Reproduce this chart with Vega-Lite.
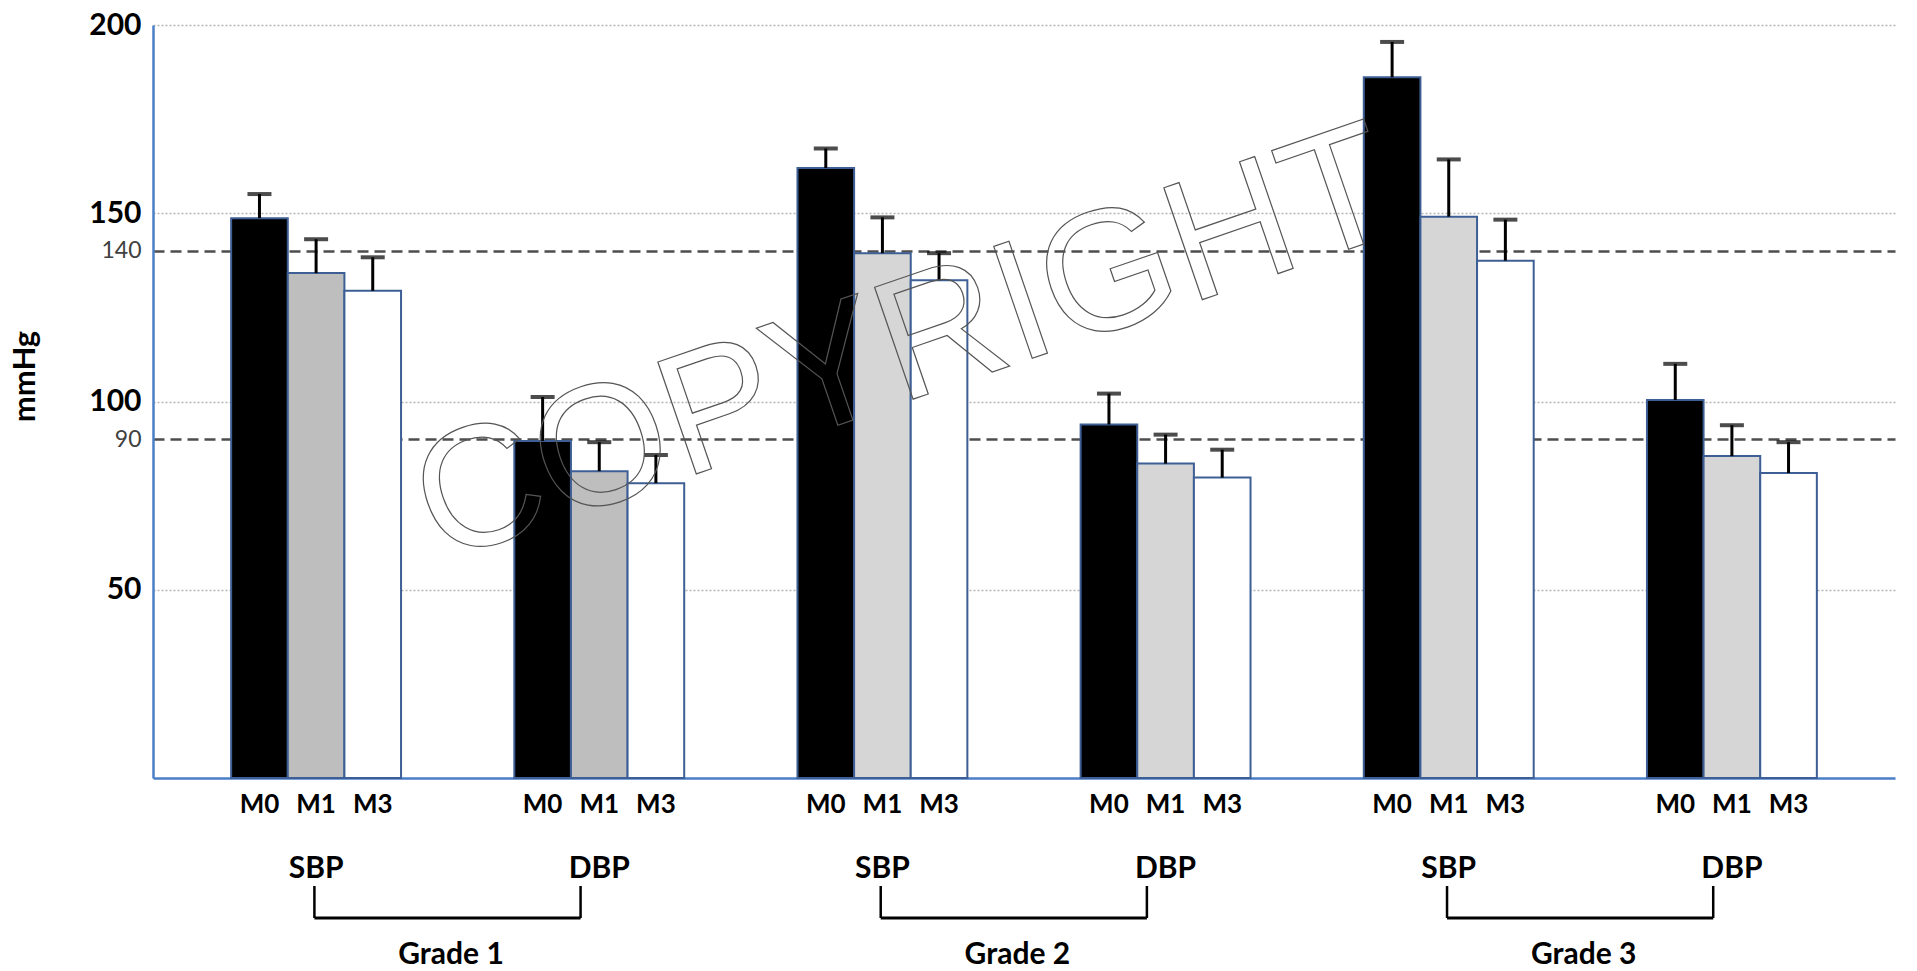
{
  "$schema": "https://vega.github.io/schema/vega-lite/v6.json",
  "width": 1742,
  "height": 753,
  "autosize": {"type": "none"},
  "padding": {"left": 153, "top": 25, "right": 22, "bottom": 193},
  "background": "white",
  "config": {"view": {"stroke": null}, "font": "Lato"},
  "datasets": {
    "bp": [
      {"group": "Grade 1 SBP", "grade": "Grade 1", "bp": "SBP", "time": "M0", "mean": 148.7, "upper": 155.1},
      {"group": "Grade 1 SBP", "grade": "Grade 1", "bp": "SBP", "time": "M1", "mean": 134.1, "upper": 143.1},
      {"group": "Grade 1 SBP", "grade": "Grade 1", "bp": "SBP", "time": "M3", "mean": 129.4, "upper": 138.3},
      {"group": "Grade 1 DBP", "grade": "Grade 1", "bp": "DBP", "time": "M0", "mean": 89.5, "upper": 101.2},
      {"group": "Grade 1 DBP", "grade": "Grade 1", "bp": "DBP", "time": "M1", "mean": 81.5, "upper": 89.2},
      {"group": "Grade 1 DBP", "grade": "Grade 1", "bp": "DBP", "time": "M3", "mean": 78.3, "upper": 85.8},
      {"group": "Grade 2 SBP", "grade": "Grade 2", "bp": "SBP", "time": "M0", "mean": 162.0, "upper": 167.2},
      {"group": "Grade 2 SBP", "grade": "Grade 2", "bp": "SBP", "time": "M1", "mean": 139.4, "upper": 148.9},
      {"group": "Grade 2 SBP", "grade": "Grade 2", "bp": "SBP", "time": "M3", "mean": 132.2, "upper": 139.4},
      {"group": "Grade 2 DBP", "grade": "Grade 2", "bp": "DBP", "time": "M0", "mean": 93.9, "upper": 102.1},
      {"group": "Grade 2 DBP", "grade": "Grade 2", "bp": "DBP", "time": "M1", "mean": 83.5, "upper": 91.2},
      {"group": "Grade 2 DBP", "grade": "Grade 2", "bp": "DBP", "time": "M3", "mean": 79.8, "upper": 87.2},
      {"group": "Grade 3 SBP", "grade": "Grade 3", "bp": "SBP", "time": "M0", "mean": 186.1, "upper": 195.5},
      {"group": "Grade 3 SBP", "grade": "Grade 3", "bp": "SBP", "time": "M1", "mean": 149.1, "upper": 164.3},
      {"group": "Grade 3 SBP", "grade": "Grade 3", "bp": "SBP", "time": "M3", "mean": 137.4, "upper": 148.3},
      {"group": "Grade 3 DBP", "grade": "Grade 3", "bp": "DBP", "time": "M0", "mean": 100.4, "upper": 110.0},
      {"group": "Grade 3 DBP", "grade": "Grade 3", "bp": "DBP", "time": "M1", "mean": 85.5, "upper": 93.7},
      {"group": "Grade 3 DBP", "grade": "Grade 3", "bp": "DBP", "time": "M3", "mean": 81.0, "upper": 89.2}
    ],
    "grades": [
      {"grade": "Grade 1", "sbp": "Grade 1 SBP", "dbp": "Grade 1 DBP"},
      {"grade": "Grade 2", "sbp": "Grade 2 SBP", "dbp": "Grade 2 DBP"},
      {"grade": "Grade 3", "sbp": "Grade 3 SBP", "dbp": "Grade 3 DBP"}
    ],
    "watermark": [{"text": "COPYRIGHT"}]
  },
  "layer": [
    {
      "data": {"name": "bp"},
      "mark": {"type": "bar", "stroke": "#3D5F95", "strokeWidth": 2},
      "encoding": {
        "x": {
          "field": "group", "type": "nominal",
          "scale": {"domain": ["Grade 1 SBP", "Grade 1 DBP", "Grade 2 SBP", "Grade 2 DBP", "Grade 3 SBP", "Grade 3 DBP"], "paddingInner": 0.4, "paddingOuter": 0.276},
          "axis": {
            "title": null, "ticks": false, "labelAngle": 0, "labelPadding": 75,
            "labelFontSize": 30, "labelFontWeight": "bold", "labelColor": "#000000",
            "labelExpr": "split(datum.value, ' ')[2]",
            "domainColor": "#4A7EC7", "domainWidth": 2.5, "grid": false
          }
        },
        "xOffset": {"field": "time", "type": "nominal", "scale": {"domain": ["M0", "M1", "M3"], "paddingInner": 0, "paddingOuter": 0}},
        "y": {
          "field": "mean", "type": "quantitative",
          "scale": {"domain": [0, 200], "nice": false},
          "axis": {
            "values": [50, 90, 100, 140, 150, 200],
            "title": "mmHg", "titleFontSize": 31, "titleFontWeight": "bold", "titleColor": "#000000",
            "titleX": -128, "titleY": 351, "titleAngle": -90, "titleAlign": "center", "titleBaseline": "middle",
            "ticks": false, "labelPadding": 12,
            "domainColor": "#4A7EC7", "domainWidth": 2.5,
            "grid": true,
            "gridColor": {"condition": {"test": "datum.value == 90 || datum.value == 140", "value": "#4D4D4D"}, "value": "#B5B5B5"},
            "gridDash": {"condition": {"test": "datum.value == 90 || datum.value == 140", "value": [11, 6]}, "value": [2, 2]},
            "gridWidth": {"condition": {"test": "datum.value == 90 || datum.value == 140", "value": 2.4}, "value": 1.6},
            "labelFontSize": {"condition": {"test": "datum.value == 90 || datum.value == 140", "value": 23}, "value": 30},
            "labelFontWeight": {"condition": {"test": "datum.value == 90 || datum.value == 140", "value": "normal"}, "value": "bold"},
            "labelColor": {"condition": {"test": "datum.value == 90 || datum.value == 140", "value": "#404040"}, "value": "#000000"}
          }
        },
        "fill": {
          "condition": {"test": "datum.grade === 'Grade 1' && datum.time === 'M1'", "value": "#BEBEBE"},
          "field": "time", "type": "nominal",
          "scale": {"domain": ["M0", "M1", "M3"], "range": ["#000000", "#D6D6D6", "#FFFFFF"]},
          "legend": null
        }
      }
    },
    {
      "data": {"name": "bp"},
      "mark": {"type": "rule", "color": "#000000", "strokeWidth": 3},
      "encoding": {
        "x": {"field": "group", "type": "nominal"},
        "xOffset": {"field": "time", "type": "nominal"},
        "y": {"field": "mean", "type": "quantitative"},
        "y2": {"field": "upper"}
      }
    },
    {
      "data": {"name": "bp"},
      "mark": {"type": "tick", "color": "#000000", "thickness": 4, "size": 24},
      "encoding": {
        "x": {"field": "group", "type": "nominal"},
        "xOffset": {"field": "time", "type": "nominal"},
        "y": {"field": "upper", "type": "quantitative"}
      }
    },
    {
      "data": {"name": "bp"},
      "mark": {"type": "text", "dy": 27, "fontSize": 26, "fontWeight": "bold", "baseline": "middle", "color": "#000000"},
      "encoding": {
        "x": {"field": "group", "type": "nominal"},
        "xOffset": {"field": "time", "type": "nominal"},
        "y": {"datum": 0},
        "text": {"field": "time"}
      }
    },
    {
      "data": {"name": "grades"},
      "mark": {"type": "rule", "color": "#000000", "strokeWidth": 2.5, "yOffset": 108, "y2Offset": 140},
      "encoding": {
        "x": {"field": "sbp", "type": "nominal", "bandPosition": 0.49},
        "y": {"datum": 0},
        "y2": {"datum": 0}
      }
    },
    {
      "data": {"name": "grades"},
      "mark": {"type": "rule", "color": "#000000", "strokeWidth": 2.5, "yOffset": 108, "y2Offset": 140},
      "encoding": {
        "x": {"field": "dbp", "type": "nominal", "bandPosition": 0.39},
        "y": {"datum": 0},
        "y2": {"datum": 0}
      }
    },
    {
      "data": {"name": "grades"},
      "mark": {"type": "rule", "color": "#000000", "strokeWidth": 3, "yOffset": 140},
      "encoding": {
        "x": {"field": "sbp", "type": "nominal", "bandPosition": 0.49},
        "x2": {"field": "dbp", "bandPosition": 0.39},
        "y": {"datum": 0}
      }
    },
    {
      "data": {"name": "grades"},
      "mark": {"type": "text", "dx": 50, "dy": 177, "fontSize": 30, "fontWeight": "bold", "baseline": "middle", "color": "#000000"},
      "encoding": {
        "x": {"field": "sbp", "type": "nominal", "bandPosition": 1},
        "y": {"datum": 0},
        "text": {"field": "grade"}
      }
    },
    {
      "data": {"name": "watermark"},
      "mark": {"type": "text", "font": "Liberation Sans", "fontSize": 172, "angle": -19, "align": "center", "baseline": "middle", "fillOpacity": 0, "stroke": "#555555", "strokeWidth": 1.2, "xOffset": 23},
      "encoding": {
        "x": {"datum": "Grade 2 SBP"},
        "y": {"datum": 114.5},
        "text": {"field": "text"}
      }
    }
  ]
}
